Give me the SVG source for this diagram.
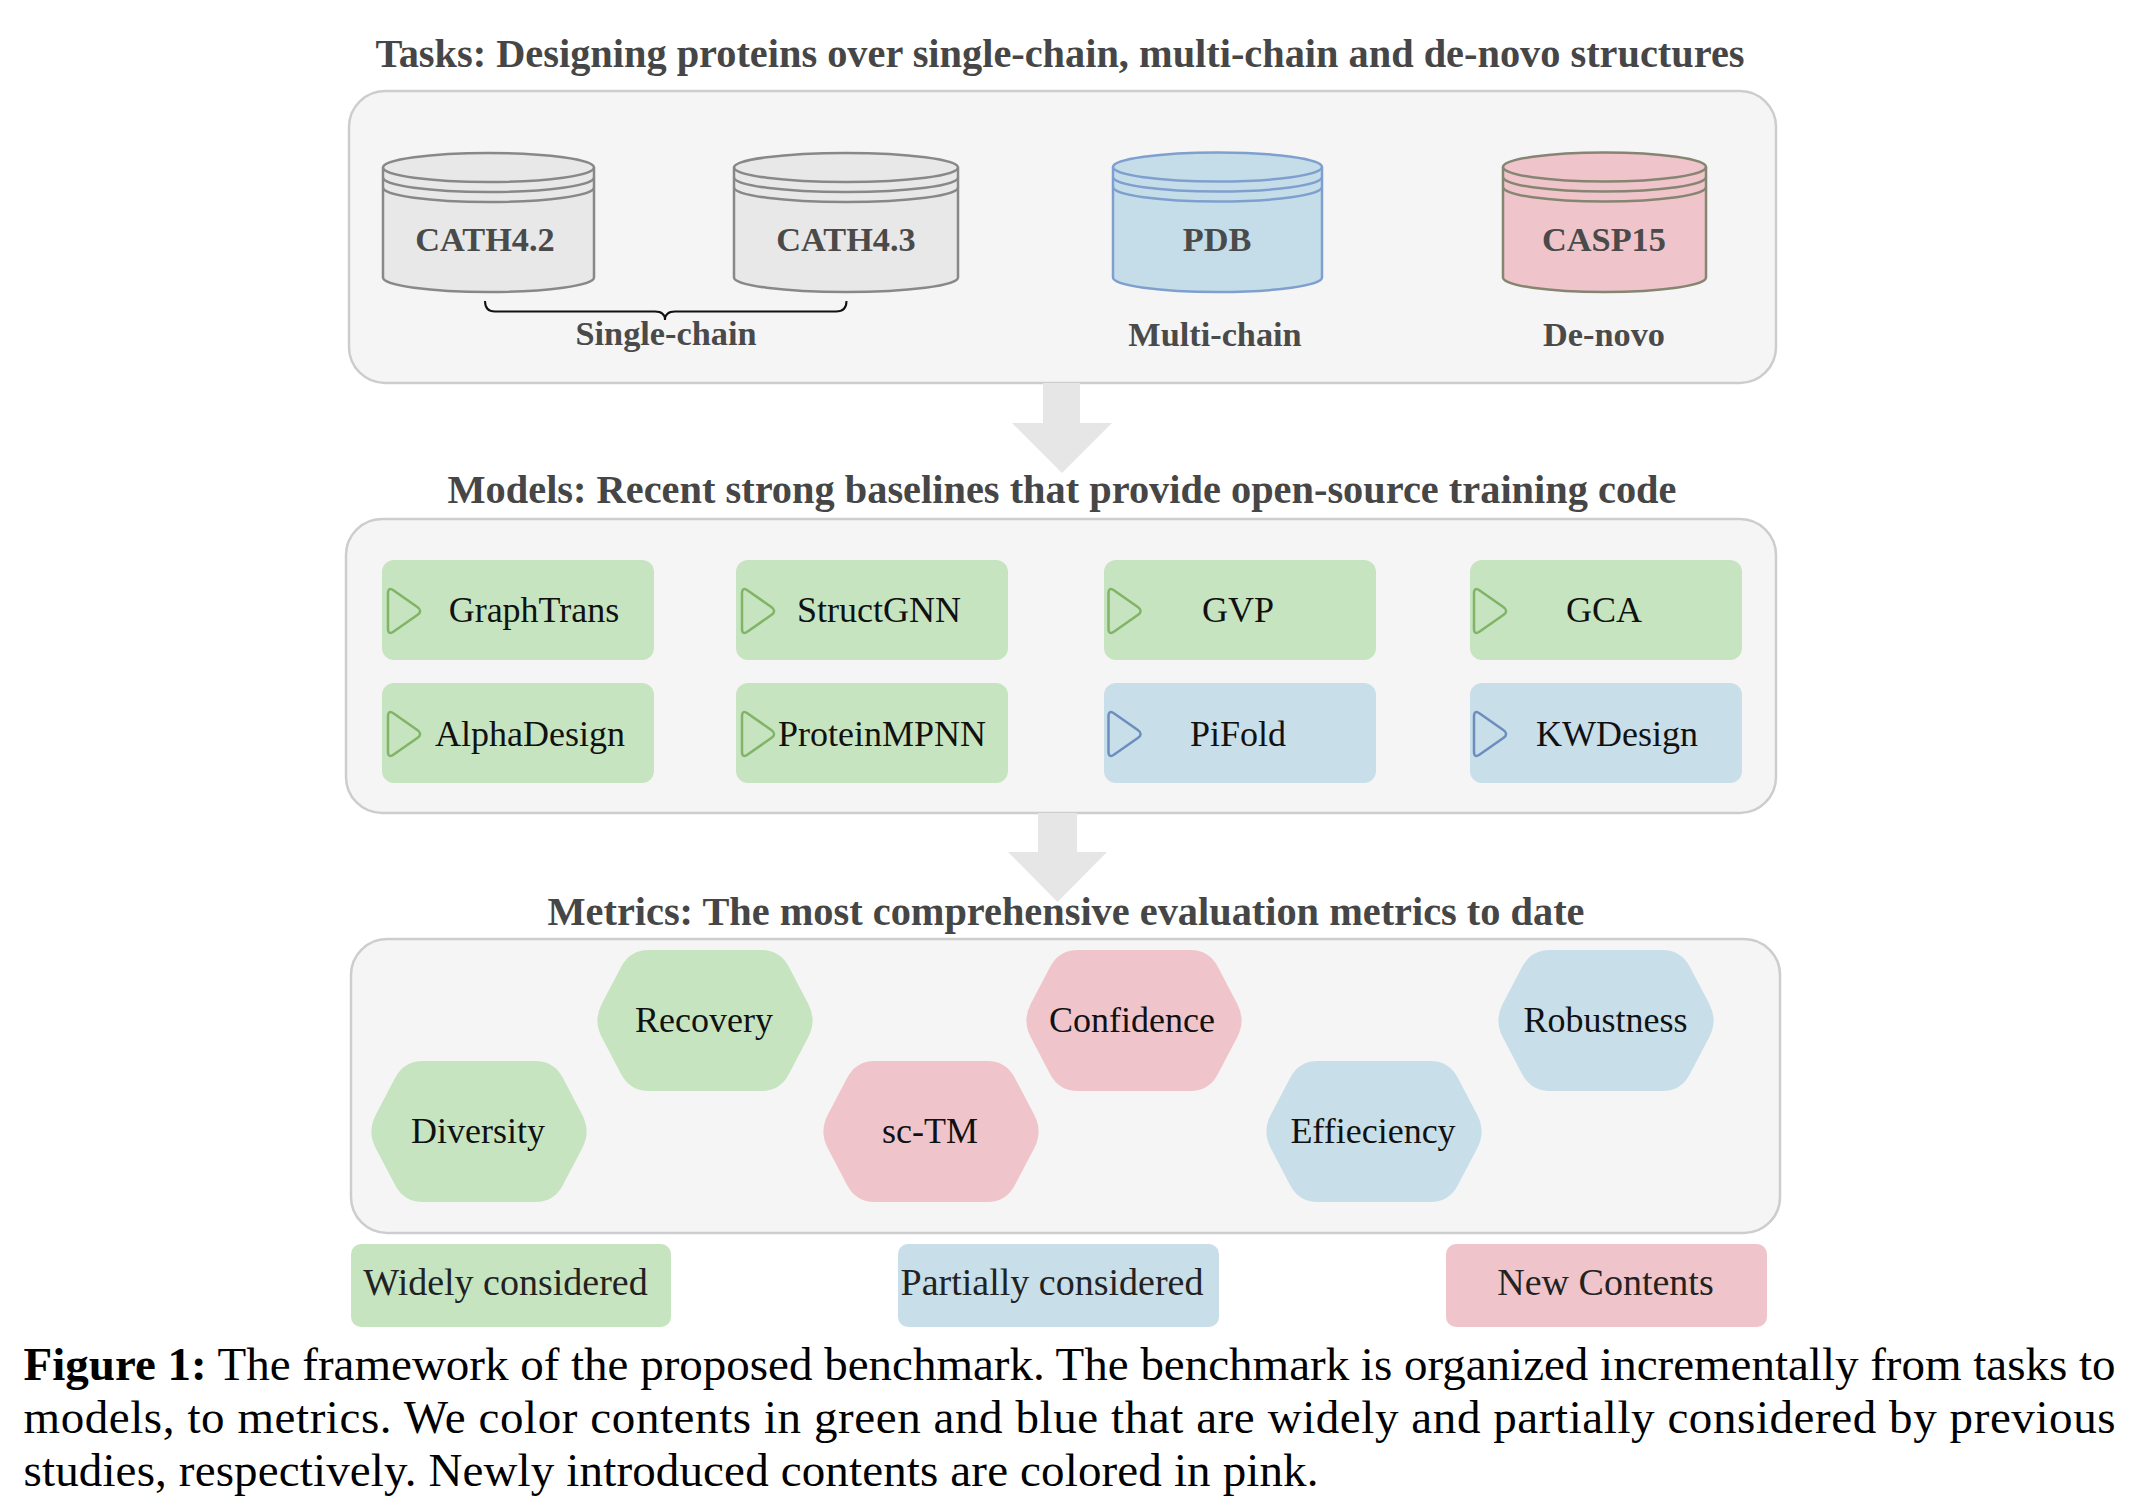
<svg xmlns="http://www.w3.org/2000/svg" xmlns:xlink="http://www.w3.org/1999/xlink" width="2134" height="1512" viewBox="0 0 2134 1512">
<style>
text{font-family:"Liberation Serif","Times New Roman",serif}
.title{font-weight:bold;font-size:40.4px;fill:#464646;text-anchor:middle}
.dbl{font-weight:bold;font-size:34.3px;fill:#4a4a4a;text-anchor:middle}
.lbl{font-size:36px;fill:#111;text-anchor:middle}
.leg{font-size:38px;fill:#222;text-anchor:middle}
.cap{font-size:47px;fill:#000}
.panel{fill:#f5f5f5;stroke:#cdcdcd;stroke-width:2.5}
.arrow{fill:#e6e6e6}
.g{fill:#c6e4c0}
.b{fill:#c8dee8}
.p{fill:#efc5cb}
.tg{fill:none;stroke:#82b366;stroke-width:2.5}
.tb{fill:none;stroke:#6c8ebf;stroke-width:2.5}
.cyl-gray{fill:#e8e8e8;stroke:#888;stroke-width:2.5}
.cyl-blue{fill:#c4dde8;stroke:#7f9fcf;stroke-width:2.5}
.cyl-pink{fill:#efc5cb;stroke:#858572;stroke-width:2.5}
.line{fill:none}
</style>
<defs>
<path id="tri" d="M0,7 Q0,0 5.7,4 L29.3,20.5 Q35,24.5 29.3,28.5 L5.7,45 Q0,49 0,42 Z"/>
<path id="hex" d="M-103.2,-16.8 L-83.8,-53.7 Q-75,-70.5 -56,-70.5 L56,-70.5 Q75,-70.5 83.8,-53.7 L103.2,-16.8 Q112,0 103.2,16.8 L83.8,53.7 Q75,70.5 56,70.5 L-56,70.5 Q-75,70.5 -83.8,53.7 L-103.2,16.8 Q-112,0 -103.2,-16.8 Z"/>
</defs>
<rect width="2134" height="1512" fill="#fff"/>

<!-- Titles -->
<text class="title" x="1060" y="67" textLength="1369" lengthAdjust="spacingAndGlyphs">Tasks: Designing proteins over single-chain, multi-chain and de-novo structures</text>
<text class="title" x="1062" y="503" textLength="1229" lengthAdjust="spacingAndGlyphs">Models: Recent strong baselines that provide open-source training code</text>
<text class="title" x="1066" y="925" textLength="1037" lengthAdjust="spacingAndGlyphs">Metrics: The most comprehensive evaluation metrics to date</text>

<!-- Panels -->
<rect class="panel" x="349" y="91" width="1427" height="292" rx="36"/>
<rect class="panel" x="346" y="519" width="1430" height="294" rx="36"/>
<rect class="panel" x="351" y="939" width="1429" height="294" rx="36"/>

<!-- Connectors -->
<g id="connectors">
<path class="arrow" d="M1043,383 L1080,383 L1080,423 L1112,423 L1062,473 L1012,423 L1043,423 Z"/>
<path class="arrow" d="M1038,813 L1077,813 L1077,852 L1107,852 L1057.5,902 L1008,852 L1038,852 Z"/>
</g>

<!-- Datasets -->
<g id="cath42">
<path class="cyl-gray" d="M383,167.5 A105.5,14.5 0 0 1 594,167.5 L594,277.5 A105.5,14.5 0 0 1 383,277.5 Z"/>
<path class="cyl-gray line" d="M383,167.5 A105.5,14.5 0 0 0 594,167.5 M383,177.5 A105.5,14.5 0 0 0 594,177.5 M383,187.5 A105.5,14.5 0 0 0 594,187.5"/>
<text class="dbl" x="485" y="251">CATH4.2</text>
</g>
<g id="cath43">
<path class="cyl-gray" d="M734,167.5 A112,14.5 0 0 1 958,167.5 L958,277.5 A112,14.5 0 0 1 734,277.5 Z"/>
<path class="cyl-gray line" d="M734,167.5 A112,14.5 0 0 0 958,167.5 M734,177.5 A112,14.5 0 0 0 958,177.5 M734,187.5 A112,14.5 0 0 0 958,187.5"/>
<text class="dbl" x="846" y="251">CATH4.3</text>
</g>
<g id="pdb">
<path class="cyl-blue" d="M1113,167 A104.5,14.5 0 0 1 1322,167 L1322,277.5 A104.5,14.5 0 0 1 1113,277.5 Z"/>
<path class="cyl-blue line" d="M1113,167 A104.5,14.5 0 0 0 1322,167 M1113,177 A104.5,14.5 0 0 0 1322,177 M1113,187 A104.5,14.5 0 0 0 1322,187"/>
<text class="dbl" x="1217" y="251">PDB</text>
</g>
<g id="casp15">
<path class="cyl-pink" d="M1503,167 A101.5,14.5 0 0 1 1706,167 L1706,277.5 A101.5,14.5 0 0 1 1503,277.5 Z"/>
<path class="cyl-pink line" d="M1503,167 A101.5,14.5 0 0 0 1706,167 M1503,177 A101.5,14.5 0 0 0 1706,177 M1503,187 A101.5,14.5 0 0 0 1706,187"/>
<text class="dbl" x="1604" y="251">CASP15</text>
</g>
<g id="single-chain">
<path d="M485,301 Q485,311.5 495,311.5 L655,311.5 Q665,311.5 665,320 Q665,311.5 675,311.5 L836,311.5 Q846.5,311.5 846.5,301" fill="none" stroke="#111" stroke-width="2"/>
<text class="dbl" x="666" y="345">Single-chain</text>
</g>
<g id="multi-chain"><text class="dbl" x="1215" y="346">Multi-chain</text></g>
<g id="de-novo"><text class="dbl" x="1604" y="346">De-novo</text></g>

<!-- Models -->
<g id="graphtrans"><rect class="g" x="382" y="560" width="272" height="100" rx="12"/><use xlink:href="#tri" href="#tri" x="388" y="586.5" class="tg"/><text class="lbl" x="534" y="622">GraphTrans</text></g>
<g id="structgnn"><rect class="g" x="736" y="560" width="272" height="100" rx="12"/><use xlink:href="#tri" href="#tri" x="742" y="586.5" class="tg"/><text class="lbl" x="879" y="622">StructGNN</text></g>
<g id="gvp"><rect class="g" x="1104" y="560" width="272" height="100" rx="12"/><use xlink:href="#tri" href="#tri" x="1108.5" y="586.5" class="tg"/><text class="lbl" x="1238" y="622">GVP</text></g>
<g id="gca"><rect class="g" x="1470" y="560" width="272" height="100" rx="12"/><use xlink:href="#tri" href="#tri" x="1474" y="586.5" class="tg"/><text class="lbl" x="1604" y="622">GCA</text></g>
<g id="alphadesign"><rect class="g" x="382" y="683" width="272" height="100" rx="12"/><use xlink:href="#tri" href="#tri" x="388" y="709.5" class="tg"/><text class="lbl" x="530" y="746">AlphaDesign</text></g>
<g id="proteinmpnn"><rect class="g" x="736" y="683" width="272" height="100" rx="12"/><use xlink:href="#tri" href="#tri" x="742" y="709.5" class="tg"/><text class="lbl" x="882" y="746">ProteinMPNN</text></g>
<g id="pifold"><rect class="b" x="1104" y="683" width="272" height="100" rx="12"/><use xlink:href="#tri" href="#tri" x="1108.5" y="709.5" class="tb"/><text class="lbl" x="1238" y="746">PiFold</text></g>
<g id="kwdesign"><rect class="b" x="1470" y="683" width="272" height="100" rx="12"/><use xlink:href="#tri" href="#tri" x="1474" y="709.5" class="tb"/><text class="lbl" x="1617" y="746">KWDesign</text></g>

<!-- Metrics -->
<g id="recovery"><use xlink:href="#hex" href="#hex" class="g" transform="translate(705,1020.5)"/><text class="lbl" x="704" y="1031.5">Recovery</text></g>
<g id="confidence"><use xlink:href="#hex" href="#hex" class="p" transform="translate(1134,1020.5)"/><text class="lbl" x="1132" y="1031.5">Confidence</text></g>
<g id="robustness"><use xlink:href="#hex" href="#hex" class="b" transform="translate(1606,1020.5)"/><text class="lbl" x="1605.5" y="1031.5">Robustness</text></g>
<g id="diversity"><use xlink:href="#hex" href="#hex" class="g" transform="translate(479,1131.5)"/><text class="lbl" x="478" y="1142.5">Diversity</text></g>
<g id="sc-tm"><use xlink:href="#hex" href="#hex" class="p" transform="translate(931,1131.5)"/><text class="lbl" x="930" y="1142.5">sc-TM</text></g>
<g id="effieciency"><use xlink:href="#hex" href="#hex" class="b" transform="translate(1374,1131.5)"/><text class="lbl" x="1373" y="1142.5">Effieciency</text></g>

<!-- Legend -->
<g id="legend-widely"><rect class="g" x="351" y="1244" width="320" height="83" rx="10"/><text class="leg" x="505.5" y="1295">Widely considered</text></g>
<g id="legend-partially"><rect class="b" x="898" y="1244" width="321" height="83" rx="10"/><text class="leg" x="1052" y="1295">Partially considered</text></g>
<g id="legend-new"><rect class="p" x="1446" y="1244" width="321" height="83" rx="10"/><text class="leg" x="1605.5" y="1295">New Contents</text></g>

<!-- Caption -->
<text class="cap" x="23.5" y="1380" textLength="2092" lengthAdjust="spacing"><tspan font-weight="bold">Figure 1:</tspan> The framework of the proposed benchmark. The benchmark is organized incrementally from tasks to</text>
<text class="cap" x="23.5" y="1433" textLength="2092" lengthAdjust="spacing">models, to metrics. We color contents in green and blue that are widely and partially considered by previous</text>
<text class="cap" x="23.5" y="1486" textLength="1295" lengthAdjust="spacing">studies, respectively. Newly introduced contents are colored in pink.</text>
</svg>
